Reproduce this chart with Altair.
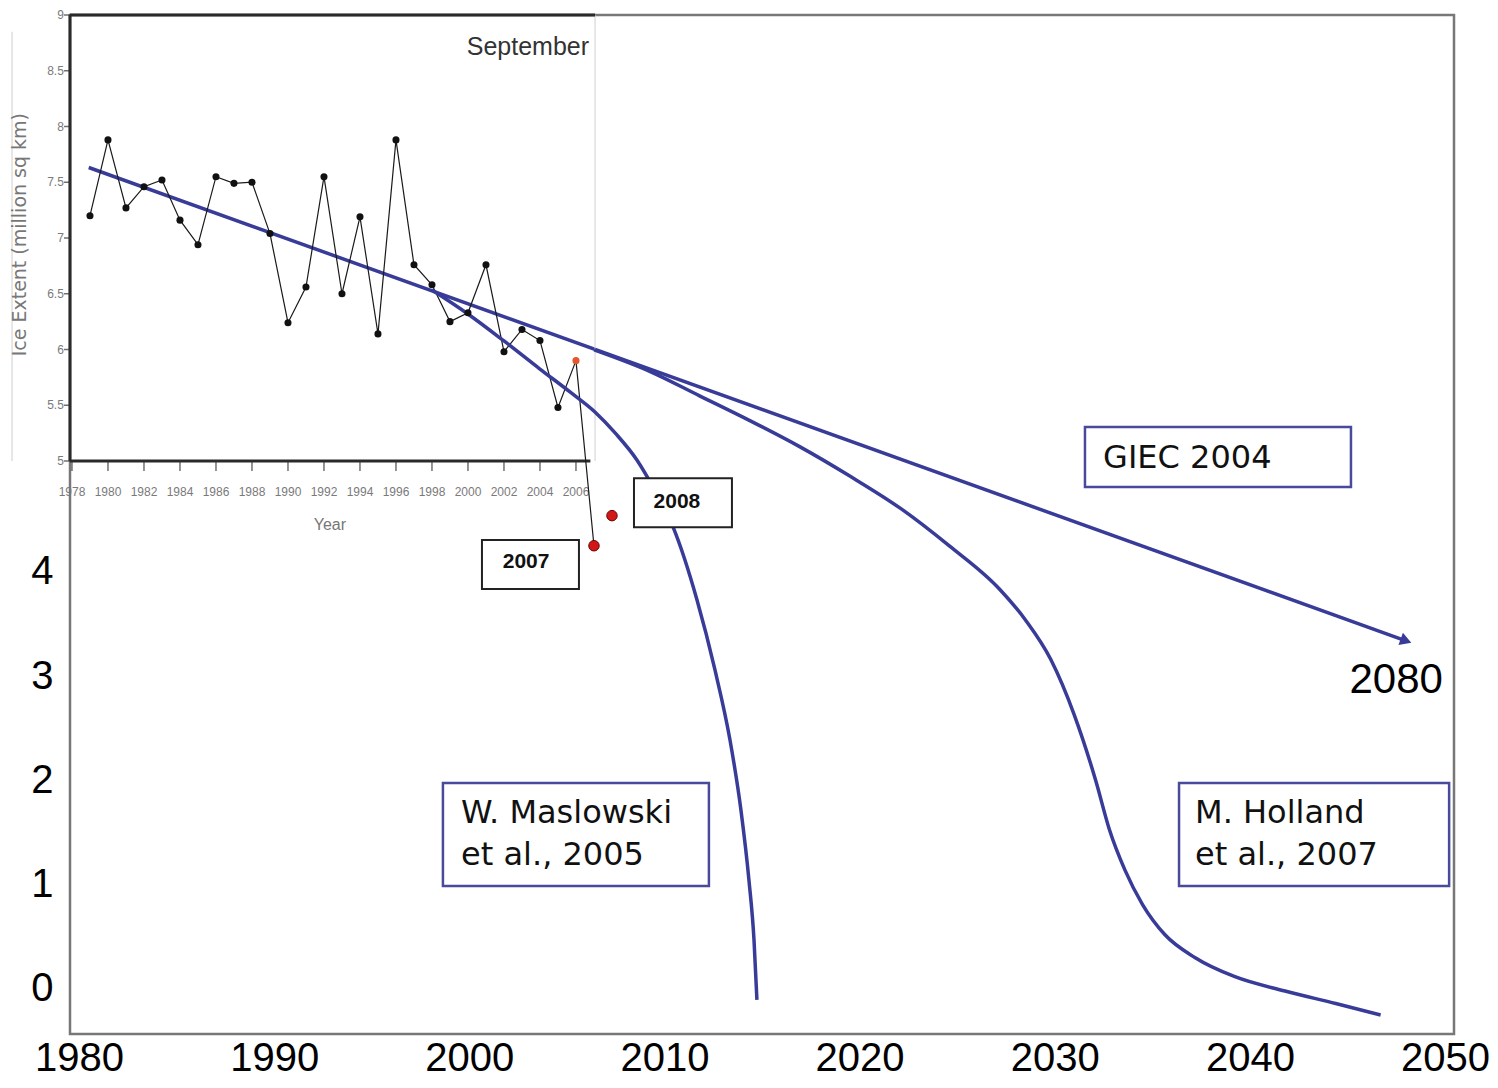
import altair as alt
import pandas as pd

# ---------------- data ----------------
# Inset: September Arctic sea-ice extent (million sq km)
years = list(range(1979, 2007))
extent = [7.20, 7.88, 7.27, 7.46, 7.52, 7.16, 6.94, 7.55, 7.49, 7.50,
          7.04, 6.24, 6.56, 7.55, 6.50, 7.19, 6.14, 7.88, 6.76, 6.58,
          6.25, 6.33, 6.76, 5.98, 6.18, 6.08, 5.48, 5.90]
recent_years = [2007, 2008]
recent_extent = [4.24, 4.51]

inset_x_ticks = list(range(1978, 2008, 2))
inset_y_ticks = [5.0, 5.5, 6.0, 6.5, 7.0, 7.5, 8.0, 8.5, 9.0]
inset_y_labels = ["5", "5.5", "6", "6.5", "7", "7.5", "8", "8.5", "9"]

# Main chart: projections (million sq km)
main_x_ticks = [1980, 1990, 2000, 2010, 2020, 2030, 2040, 2050]
main_y_ticks = [0, 1, 2, 3, 4]

giec_years = [1980.5, 2048.0]
giec_vals = [7.88, 3.34]

maslowski_years = [1998.09, 1999.93, 2001.78, 2003.62, 2005.16, 2006.44, 2007.52,
                   2008.59, 2009.52, 2010.44, 2011.67, 2012.59, 2013.36, 2013.92,
                   2014.33, 2014.59, 2014.74]
maslowski_vals = [6.705, 6.475, 6.216, 5.947, 5.727, 5.535, 5.324,
                  5.074, 4.777, 4.432, 3.731, 3.060, 2.388, 1.717,
                  1.046, 0.470, -0.105]

holland_years = [2006.4, 2009.3, 2011.8, 2014.4, 2016.95, 2019.5, 2022.1, 2024.6,
                 2027.2, 2028.5, 2029.8, 2031.0, 2032.1, 2032.8, 2033.6, 2034.5,
                 2035.65, 2037.2, 2039.2, 2041.8, 2044.4, 2046.7]
holland_vals = [6.13, 5.92, 5.69, 5.45, 5.20, 4.92, 4.61, 4.25,
                3.83, 3.54, 3.16, 2.63, 2.00, 1.53, 1.14, 0.81,
                0.52, 0.30, 0.12, -0.02, -0.14, -0.25]

# annotation boxes in main-chart units: label, x1, x2, y1, y2, text x, text y
box_labels = ["GIEC 2004", "W. Maslowski\net al., 2005", "M. Holland\net al., 2007"]
box_x1 = [2031.55, 1998.65, 2036.37]
box_x2 = [2045.18, 2012.28, 2050.21]
box_y1 = [5.39, 1.976, 1.976]
box_y2 = [4.815, 0.988, 0.988]
box_tx = [2032.48, 1999.58, 2037.19]
box_ty = [5.094, 1.688, 1.688]

year_labels = ["2008", "2007"]
ybox_x1 = [2008.44, 2000.65]
ybox_x2 = [2013.46, 2005.62]
ybox_y1 = [4.90, 4.307]
ybox_y2 = [4.43, 3.837]
ybox_tx = [2010.64, 2002.91]
ybox_ty = [4.672, 4.096]

# ---------------- scales ----------------
MX = alt.Scale(domain=[1979.54, 2050.46], nice=False, zero=False)
MY = alt.Scale(domain=[-0.432, 9.343], nice=False, zero=False)
IX = alt.Scale(domain=[1977.89, 2054.78], nice=False, zero=False)
IY = alt.Scale(domain=[-0.139, 9.0], nice=False, zero=False)

BLUE = "#383c98"
SANS = "Liberation Sans"


def enc(sx, sy, x="x", y="y", x2=None, y2=None, **extra):
    e = dict(x=alt.X(f"{x}:Q", scale=sx, axis=None),
             y=alt.Y(f"{y}:Q", scale=sy, axis=None))
    if x2:
        e["x2"] = alt.X2(f"{x2}:Q")
    if y2:
        e["y2"] = alt.Y2(f"{y2}:Q")
    e.update(extra)
    return e


layers = []

# main axes carried by the GIEC line
giec_df = pd.DataFrame({"x": giec_years, "y": giec_vals})
layers.append(
    alt.Chart(giec_df).mark_line(color=BLUE, strokeWidth=3.5).encode(
        x=alt.X("x:Q", scale=MX, axis=alt.Axis(
            values=main_x_ticks, format="d", title=None, grid=False, ticks=False,
            domain=False, labelFont=SANS, labelFontSize=40,
            labelColor="#000", labelPadding=4, labelFlush=False, labelOverlap=False)),
        y=alt.Y("y:Q", scale=MY, axis=alt.Axis(
            values=main_y_ticks, format="d", title=None, grid=False, ticks=False,
            domain=False, labelFont=SANS, labelFontSize=40,
            labelColor="#000", labelPadding=17, labelFlush=False, labelOverlap=False)),
    )
)
# arrow head
layers.append(
    alt.Chart(giec_df.tail(1)).mark_point(
        shape="triangle-right", filled=True, color=BLUE, size=170, angle=20, opacity=1
    ).encode(**enc(MX, MY))
)

# inset frame and axes (inset units)
frame_df = pd.DataFrame({
    "x": [1977.89, 1977.89, 1977.89],
    "x2": [2006.8, 1977.89, 2007.06],
    "y": [5.0, 5.0, 9.0],
    "y2": [5.0, 9.0, 9.0],
})
right_df = pd.DataFrame({"x": [2007.06], "x2": [2007.06], "y": [5.0], "y2": [9.0]})
faint_df = pd.DataFrame({"x": [1974.67], "x2": [1974.67], "y": [8.85], "y2": [5.0]})
layers.append(alt.Chart(faint_df).mark_rule(color="#d6d6d6", strokeWidth=1.2)
              .encode(**enc(IX, IY, x2="x2", y2="y2")))
layers.append(alt.Chart(right_df).mark_rule(color="#d0d0d0", strokeWidth=1)
              .encode(**enc(IX, IY, x2="x2", y2="y2")))
layers.append(alt.Chart(frame_df).mark_rule(color="#2a2a2a", strokeWidth=3)
              .encode(**enc(IX, IY, x2="x2", y2="y2")))

xt_df = pd.DataFrame({"x": inset_x_ticks, "y": [5.0] * len(inset_x_ticks),
                      "lab": [str(v) for v in inset_x_ticks],
                      "ly": [4.72] * len(inset_x_ticks)})
layers.append(alt.Chart(xt_df).mark_tick(orient="vertical", color="#333", size=10,
                                         thickness=1.5, yOffset=5)
              .encode(**enc(IX, IY)))
layers.append(alt.Chart(xt_df).mark_text(font=SANS, fontSize=12, color="#7a7a7a")
              .encode(**enc(IX, IY, y="ly"), text="lab:N"))

yt_df = pd.DataFrame({"x": [1977.89] * len(inset_y_ticks), "y": inset_y_ticks,
                      "lab": inset_y_labels, "lx": [1977.55] * len(inset_y_ticks)})
layers.append(alt.Chart(yt_df).mark_tick(orient="horizontal", color="#333", size=6,
                                         thickness=1.5, xOffset=-3)
              .encode(**enc(IX, IY)))
layers.append(alt.Chart(yt_df).mark_text(font=SANS, fontSize=12, color="#7a7a7a",
                                         align="right", baseline="middle")
              .encode(**enc(IX, IY, x="lx"), text="lab:N"))

titles_df = pd.DataFrame({"x": [2003.33, 1992.33], "y": [8.71, 4.43],
                          "t": ["September", "Year"]})
layers.append(alt.Chart(titles_df.head(1)).mark_text(font=SANS, fontSize=25,
                                                     color="#333")
              .encode(**enc(IX, IY), text="t:N"))
layers.append(alt.Chart(titles_df.tail(1)).mark_text(font=SANS, fontSize=16,
                                                     color="#777")
              .encode(**enc(IX, IY), text="t:N"))
ytitle_df = pd.DataFrame({"x": [1975.11], "y": [7.03], "t": ["Ice Extent (million sq km)"]})
layers.append(alt.Chart(ytitle_df).mark_text(font="DejaVu Sans", fontSize=19,
                                             color="#777", angle=270)
              .encode(**enc(IX, IY), text="t:N"))

# inset data line
line_df = pd.DataFrame({"x": years + recent_years[:1], "y": extent + recent_extent[:1]})
layers.append(alt.Chart(line_df).mark_line(color="#1a1a1a", strokeWidth=1.2)
              .encode(**enc(IX, IY)))

# projection curves (main units)
layers.append(alt.Chart(pd.DataFrame({"x": maslowski_years, "y": maslowski_vals}))
              .mark_line(color=BLUE, strokeWidth=3.5, interpolate="monotone")
              .encode(**enc(MX, MY)))
layers.append(alt.Chart(pd.DataFrame({"x": holland_years, "y": holland_vals}))
              .mark_line(color=BLUE, strokeWidth=3.5, interpolate="monotone")
              .encode(**enc(MX, MY)))

# inset points
pts_df = pd.DataFrame({"x": years[:-1], "y": extent[:-1]})
layers.append(alt.Chart(pts_df).mark_circle(color="#111", size=50, opacity=1)
              .encode(**enc(IX, IY)))
layers.append(alt.Chart(pd.DataFrame({"x": years[-1:], "y": extent[-1:]}))
              .mark_circle(color="#e4572e", size=50, opacity=1)
              .encode(**enc(IX, IY)))
layers.append(alt.Chart(pd.DataFrame({"x": recent_years, "y": recent_extent}))
              .mark_point(filled=True, fill="#d01818", stroke="#700000", strokeWidth=1,
                          size=110, opacity=1)
              .encode(**enc(IX, IY)))

# annotation boxes
bdf = pd.DataFrame({"x": box_x1, "x2": box_x2, "y": box_y1, "y2": box_y2,
                    "tx": box_tx, "ty": box_ty, "t": box_labels})
layers.append(alt.Chart(bdf).mark_rect(fill="white", stroke="#4a4a9c", strokeWidth=2.5)
              .encode(**enc(MX, MY, x2="x2", y2="y2")))
layers.append(alt.Chart(bdf).mark_text(font="DejaVu Sans", fontSize=32, color="#111",
                                       align="left", baseline="middle", lineBreak="\n",
                                       lineHeight=42)
              .encode(**enc(MX, MY, x="tx", y="ty"), text="t:N"))

ydf = pd.DataFrame({"x": ybox_x1, "x2": ybox_x2, "y": ybox_y1, "y2": ybox_y2,
                    "tx": ybox_tx, "ty": ybox_ty, "t": year_labels})
layers.append(alt.Chart(ydf).mark_rect(fill="white", stroke="#222", strokeWidth=2)
              .encode(**enc(MX, MY, x2="x2", y2="y2")))
layers.append(alt.Chart(ydf).mark_text(font=SANS, fontSize=21,
                                       fontWeight="bold", color="#111")
              .encode(**enc(MX, MY, x="tx", y="ty"), text="t:N"))

# 2080 label
layers.append(alt.Chart(pd.DataFrame({"x": [2049.89], "y": [2.964], "t": ["2080"]}))
              .mark_text(font=SANS, fontSize=42, color="#000",
                         align="right", baseline="middle")
              .encode(**enc(MX, MY), text="t:N"))

chart = alt.layer(*layers).resolve_scale(x="independent", y="independent").properties(
    width=1384, height=1019,
    autosize=alt.AutoSizeParams(type="none"),
    padding={"left": 62, "top": 7, "right": 36, "bottom": 46},
    background="white",
).configure_view(stroke="#777", strokeWidth=2.5)

chart.save("out.html", embed_options={"renderer": "svg", "actions": False})
